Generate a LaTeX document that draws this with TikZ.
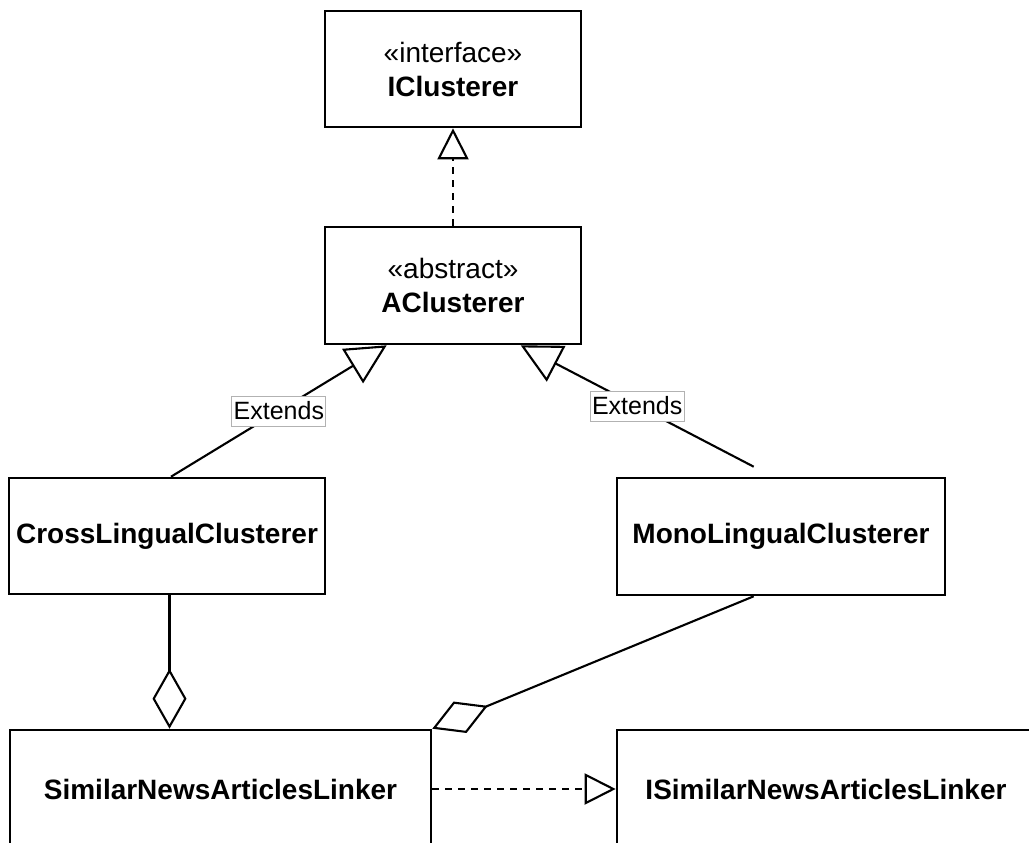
\documentclass[tikz,border=0pt]{standalone}
\usepackage{fontspec}
\setmainfont{Liberation Sans}
\usetikzlibrary{arrows.meta}

\tikzset{
  umlbox/.style={draw, line width=2.6pt, fill=white, inner sep=0pt, align=center,
    font=\bfseries\fontsize{28}{34}\selectfont},
  conn/.style={line width=2.1pt},
  dashconn/.style={conn, dash pattern=on 7pt off 6pt},
  realize/.style={-{Triangle[open, length=31pt, width=31pt]}},
  inherit/.style={-{Triangle[open, length=40pt, width=40pt]}},
  aggr/.style={-{Diamond[open, length=60pt, width=34pt]}},
  edgelabel/.style={draw=black!30, line width=0.8pt, fill=white, inner sep=0pt,
    minimum width=94pt, minimum height=30pt, font=\fontsize{25}{30}\selectfont}
}

\begin{document}
\begin{tikzpicture}[x=1pt, y=-1pt]
  \clip (0,0) rectangle (1029,843);
  \fill[white] (0,0) rectangle (1029,843);

  % classes
  \node[umlbox, minimum width=256pt, minimum height=116pt] (icl) at (453,69)
    {{\mdseries «interface»}\\IClusterer};
  \node[umlbox, minimum width=256pt, minimum height=117pt] (acl) at (453,285.5)
    {{\mdseries «abstract»}\\AClusterer};
  \node[umlbox, minimum width=316pt, minimum height=116pt] (cross) at (167,536)
    {CrossLingualClusterer};
  \node[umlbox, minimum width=328pt, minimum height=117pt] (mono) at (781,536.5)
    {MonoLingualClusterer};
  \node[umlbox, minimum width=421pt, minimum height=118pt] (sim) at (220.5,789)
    {SimilarNewsArticlesLinker};
  \node[umlbox, minimum width=418pt, minimum height=118pt] (isim) at (826,789)
    {ISimilarNewsArticlesLinker};

  % attachment points of the connectors
  \coordinate (crossTop) at ([xshift=4pt]cross.north);
  \coordinate (crossBot) at ([xshift=2.5pt]cross.south);
  \coordinate (monoTop) at ([xshift=138pt, yshift=10pt]mono.north west);
  \coordinate (monoBot) at ([xshift=138pt]mono.south west);
  \coordinate (aclLeft) at ([xshift=63pt]acl.south west);
  \coordinate (aclRight) at ([xshift=197pt]acl.south west);

  % AClusterer realizes IClusterer
  \draw[dashconn, realize] (acl.north) -- (icl.south);

  % generalizations
  \draw[conn, inherit] (crossTop) -- node[edgelabel, pos=0.5] {Extends} (aclLeft);
  \draw[conn, inherit] (monoTop) -- node[edgelabel, pos=0.5] {Extends} (aclRight);

  % aggregations
  \draw[conn, aggr] (crossBot) -- (crossBot |- sim.north);
  \draw[conn, aggr] (monoBot) -- (sim.north east);

  % SimilarNewsArticlesLinker realizes ISimilarNewsArticlesLinker
  \draw[dashconn, realize] (sim.east) -- (isim.west);
\end{tikzpicture}
\end{document}
